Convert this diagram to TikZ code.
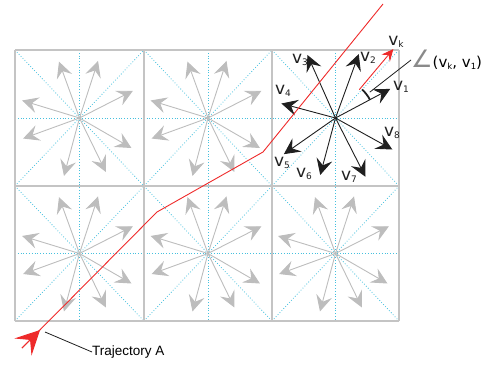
\documentclass[tikz,border=0pt]{standalone}
\usepackage{fontspec}
\setmainfont{DejaVu Sans}
\newfontfamily\trajfont{Liberation Sans}
\usetikzlibrary{arrows.meta}
\definecolor{gridgray}{HTML}{C4C4C4}
\definecolor{arrowgray}{HTML}{BDBDBD}
\definecolor{guidecyan}{HTML}{45C0DE}
\definecolor{trajred}{HTML}{EE2A2A}
\definecolor{anglegray}{HTML}{8A8A8A}
\newcommand{\vlab}[1]{{\fontsize{17}{17}\selectfont v\raisebox{-2.5pt}{\fontsize{9}{9}\selectfont #1}}}
\newcommand{\vsmall}[1]{{\fontsize{15}{15}\selectfont v\raisebox{-2pt}{\fontsize{8.5}{8.5}\selectfont #1}}}
\begin{document}
\begin{tikzpicture}[x=1pt,y=1pt,
  gridline/.style={draw=gridgray,line width=1.3pt},
  guide/.style={draw=guidecyan,dotted,line width=0.8pt},
  garrow/.style={draw=arrowgray,line width=0.9pt,-{Stealth[length=16pt,width=16pt,inset=6pt,fill=arrowgray]}},
  barrow/.style={draw=black!88,line width=0.9pt,-{Stealth[length=16pt,width=16pt,inset=6pt]}},
  vlabel/.style={inner sep=0pt,text=black!88},
  leader/.style={draw=black!88,line width=0.8pt}]
\useasboundingbox (0,0) rectangle (488,-367);
% cyan guides
\foreach \xa/\xb in {15/144,144/272,272/399}{
  \foreach \ya/\yb in {50/186,186/321}{
    \draw[guide] (\xa,-\ya) -- (\xb,-\yb);
    \draw[guide] (\xa,-\yb) -- (\xb,-\ya);
  }
}
\foreach \x in {79.5,208,335.5} \draw[guide] (\x,-50) -- (\x,-321);
\foreach \y in {118,253.5} \draw[guide] (15,-\y) -- (399,-\y);
% grid
\foreach \x in {15,144,272,399} \draw[gridline] (\x,-50) -- (\x,-321);
\foreach \y in {50,186,321} \draw[gridline] (15,-\y) -- (399,-\y);
% cell centres
\coordinate (c1) at (79.5,-118);
\coordinate (c2) at (208,-118);
\coordinate (c3) at (335.5,-118);
\coordinate (c4) at (79.5,-253.5);
\coordinate (c5) at (208,-253.5);
\coordinate (c6) at (335.5,-253.5);
% grey arrows
\foreach \c in {c1,c2,c4,c5,c6}{
  \foreach \a in {27,72,110,163,200,255,296,330}
    \draw[garrow] (\c) -- ++(\a:60);
}
% black arrows in cell 3
\foreach \a/\r/\n in {28/62/1,70/68/2,114/69/3,165/56/4,215/63/5,255/59/6,297/66/7,331/65/8}
  \draw[barrow] (c3) -- ++(\a:\r) coordinate (v\n);
% labels
\node[vlabel] at (401,-87) {\vlab{1}};
\node[vlabel] at (368,-58) {\vlab{2}};
\node[vlabel] at (300,-60) {\vlab{3}};
\node[vlabel] at (283,-91) {\vlab{4}};
\node[vlabel] at (282,-163) {\vlab{5}};
\node[vlabel] at (304,-174) {\vlab{6}};
\node[vlabel] at (349,-177) {\vlab{7}};
\node[vlabel] at (392,-133) {\vlab{8}};
\node[vlabel] at (396,-42) {\vlab{k}};
% vk arrow
\path (c3) ++(50:37) coordinate (vks);
\path (c3) ++(50:90) coordinate (vke);
\draw[draw=trajred,line width=0.9pt,-{Stealth[length=12pt,width=11pt,inset=4.5pt]},color=trajred] (vks) -- (vke);
% angle mark
\draw[line width=1.8pt,black!88] ([shift={(28:39)}]c3) arc (28:47:39);
\path (c3) ++(37:43) coordinate (lead1);
\node[inner sep=0pt,anchor=west] (anglab) at (411,-60) {{\fontsize{24}{24}\selectfont\color{anglegray}∠}{\fontsize{15}{15}\selectfont(\vsmall{k}, \vsmall{1})}};
\draw[leader] (lead1) -- (anglab.west);
% trajectory
\coordinate (t0) at (22,-348);
\coordinate (t1) at (157,-212);
\coordinate (t2) at (263,-152);
\coordinate (t3) at (383,-4);
\coordinate (tip) at (40,-330);
\draw[draw=trajred,line width=0.9pt] (t0) -- (t1) -- (t2) -- (t3);
\draw[draw=trajred,line width=0.9pt,-{Stealth[length=24pt,width=24pt,inset=10pt]},color=trajred] (t0) -- (tip);
\node[inner sep=0pt,anchor=west] (traj) at (92,-352) {\trajfont\fontsize{13.5}{13.5}\selectfont Trajectory A};
\coordinate (tl) at (45,-332);
\draw[leader] (tl) -- (traj.west);
\end{tikzpicture}
\end{document}
